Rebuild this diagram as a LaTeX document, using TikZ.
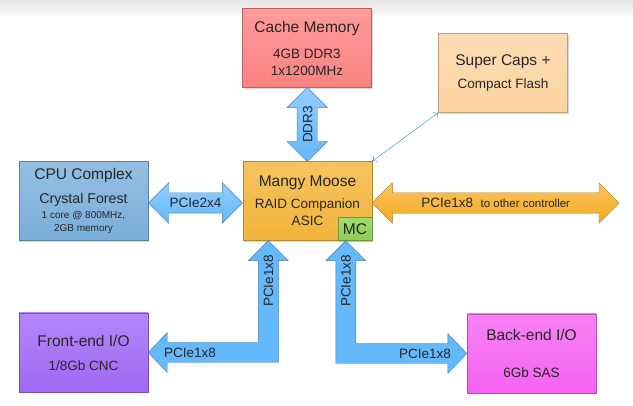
\documentclass[tikz,border=0pt]{standalone}
\usepackage{fontspec}
\setmainfont{Liberation Sans}
\usetikzlibrary{calc,shapes.arrows,shadows,arrows.meta}

\definecolor{cachered}{RGB}{252,130,130}
\definecolor{capsorange}{RGB}{252,212,160}
\definecolor{cpublue}{RGB}{122,174,218}
\definecolor{moosegold}{RGB}{242,180,58}
\definecolor{mcgreen}{RGB}{140,206,80}
\definecolor{frontpurple}{RGB}{160,104,244}
\definecolor{backpink}{RGB}{246,98,242}
\definecolor{arrowblue}{RGB}{100,184,252}
\definecolor{arroworange}{RGB}{246,170,30}
\definecolor{linkblue}{RGB}{30,128,224}

\newcommand\titlef{\fontsize{15.5}{18}\selectfont}
\newcommand\subf{\fontsize{13.5}{17}\selectfont}
\newcommand\tinyf{\fontsize{10}{13}\selectfont}

\begin{document}
\begin{tikzpicture}[x=1pt,y=-1pt,>={To[length=4pt,width=7pt]}]
\tikzstyle{every node}=[font=\subf,align=center,text=black!85]
\tikzstyle{box}=[draw=#1!75!black,top color=#1!80!white,bottom color=#1,minimum width=129pt,minimum height=79pt,inner sep=0pt,drop shadow={opacity=0.3,shadow xshift=1.2pt,shadow yshift=-1.2pt}]
\tikzstyle{blockarrow}=[double arrow,double arrow head extend=10pt,text height=10pt,text depth=0pt,inner ysep=5pt,inner xsep=0pt,draw=#1!70!black,top color=#1!70!white,bottom color=#1]
\tikzstyle{lshape}=[draw=arrowblue!70!black,fill=arrowblue]
\useasboundingbox (0,0) rectangle (633,406);
\fill[white] (0,0) rectangle (633,406);
\shade[top color=black!10,bottom color=white] (0,0) rectangle (633,18);
% boxes
\node[box=cachered] (cache) at (307,48) {\titlef Cache Memory\\[9pt]\subf 4GB DDR3\\1x1200MHz};
\node[box=capsorange] (caps) at (503,73) {\titlef Super Caps +\\[6pt]\subf Compact Flash};
\node[box=cpublue] (cpu) at (83.5,201) {\titlef CPU Complex\\[7pt]\fontsize{14.2}{17}\selectfont Crystal Forest\\[-2pt]\tinyf 1 core @ 800MHz,\\[-4pt]\tinyf 2GB memory};
\node[box=moosegold] (moose) at (307.5,201) {\titlef Mangy Moose\\[5pt]\subf RAID Companion\\ASIC};
\node[box=mcgreen,minimum width=34pt,minimum height=23pt,anchor=south east,font=\titlef] (mc) at (moose.south east) {MC};
\node[box=frontpurple] (front) at (83.5,352.5) {\titlef Front-end I/O\\[7pt]\subf 1/8Gb CNC};
\node[box=backpink] (back) at (531.5,353.5) {\titlef Back-end I/O\\[20pt]\subf 6Gb SAS};
% buses
\node[blockarrow=arrowblue,minimum height=94pt] (pcie24) at ($(cpu.east)!0.5!(moose.west)+(0,2)$) {PCIe2x4};
\node[blockarrow=arrowblue,minimum height=74pt,rotate=90] (ddr) at ($(cache.south)!0.5!(moose.north)$) {DDR3};
\node[blockarrow=arroworange,minimum height=247pt] (ext) at ($(moose.east)+(123.5,2)$) {PCIe1x8\ \ {\fontsize{11.5}{13}\selectfont to other controller}};
\draw[lshape] ($(moose.south west)+(25.5,0)$) -- ++(20,20) -- ++(-10,0) |- ($(front.east)+(19,10)$) -- ++(0,10) -- (front.east) -- ++(19,-20) -- ++(0,10) -| ($(moose.south west)+(15.5,20)$) -- ++(-10,0) -- cycle;
\draw[lshape] ($(moose.south west)+(103,0)$) -- ++(20,20) -- ++(-10,0) |- ($(back.west)+(-19,-10)$) -- ++(0,-10) -- (back.west) -- ++(-19,20) -- ++(0,-10) -| ($(moose.south west)+(93,20)$) -- ++(-10,0) -- cycle;
\node[rotate=90] (frontv) at (268.5,281) {PCIe1x8};
\node (fronth) at (190,353) {PCIe1x8};
\node[rotate=90] (backv) at (346,281) {PCIe1x8};
\node (backh) at (425,354) {PCIe1x8};
\draw[<->,color=linkblue,thin] (moose.north east) -- (caps.south west);
\end{tikzpicture}
\end{document}
